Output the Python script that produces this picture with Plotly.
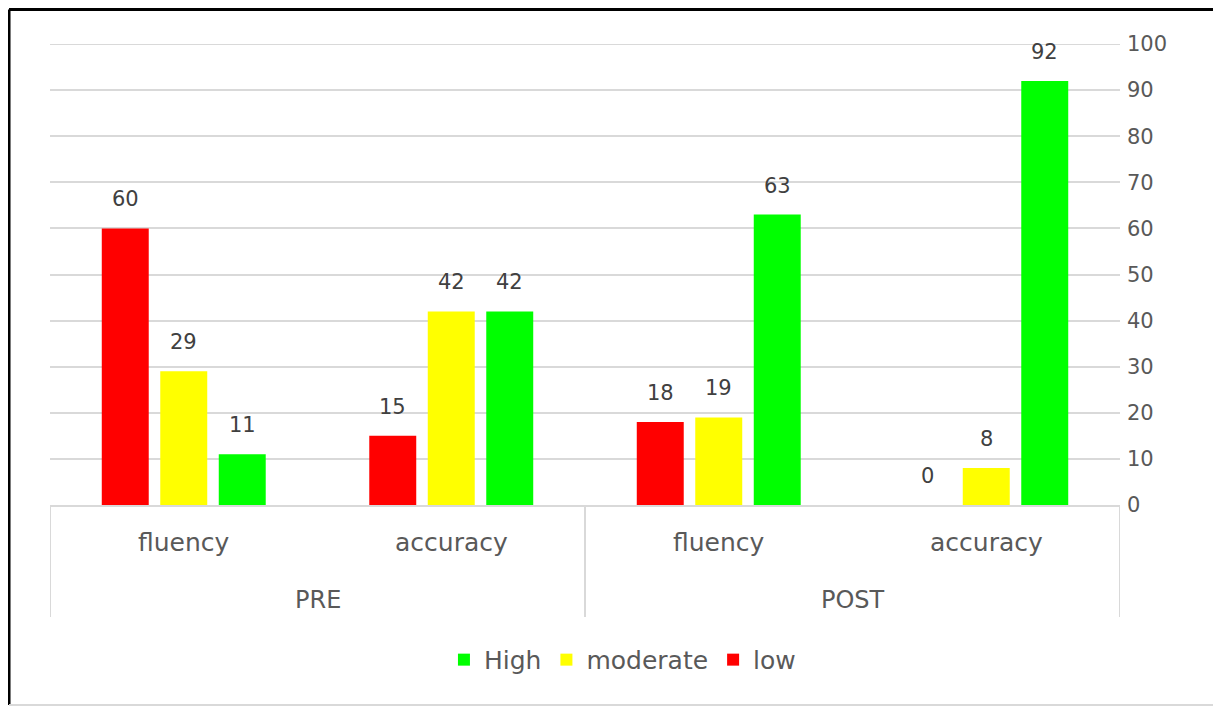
import plotly.graph_objects as go

phases = ["PRE", "PRE", "POST", "POST"]
skills = ["fluency", "accuracy", "fluency", "accuracy"]
low = [60, 15, 18, 0]
moderate = [29, 42, 19, 8]
high = [11, 42, 63, 92]

series = [("low", low, "#FF0000"), ("moderate", moderate, "#FFFF00"), ("High", high, "#00FF00")]

FONT = "DejaVu Sans"
TXT = "#595959"
GRID = "#d9d9d9"

fig = go.Figure()
for name, vals, col in series:
    fig.add_trace(go.Bar(
        x=[phases, skills], y=vals, name=name, marker_color=col,
        marker_line_width=0,
    ))

# data labels (offset per series within the group)
offsets = [-58.5, 0, 58.5]
for (name, vals, col), dx in zip(series, offsets):
    for i, v in enumerate(vals):
        fig.add_annotation(x=i, y=v, text=str(v), showarrow=False,
                           xshift=dx, yshift=15, yanchor="bottom",
                           font=dict(family=FONT, size=21, color="#404040"))

# category labels (inner and outer level)
for i, s in enumerate(skills):
    fig.add_annotation(x=i, y=-0.0803, xref="x", yref="paper", text=s, showarrow=False,
                       yanchor="middle", font=dict(family=FONT, size=25, color=TXT))
outer = []
for i, p in enumerate(phases):
    if not outer or outer[-1][0] != p:
        outer.append([p, i, i])
    else:
        outer[-1][2] = i
for p, a, b in outer:
    fig.add_annotation(x=(a + b) / 2, y=-0.206, xref="x", yref="paper", text=p, showarrow=False,
                       yanchor="middle", font=dict(family=FONT, size=24, color=TXT))
    fig.add_shape(type="line", xref="x", yref="paper", x0=a - 0.5, x1=a - 0.5, y0=0, y1=-0.243,
                  line=dict(color=GRID, width=2))
fig.add_shape(type="line", xref="x", yref="paper", x0=len(phases) - 0.5, x1=len(phases) - 0.5,
              y0=0, y1=-0.243, line=dict(color=GRID, width=2))

fig.update_layout(
    width=1221, height=708,
    margin=dict(l=42, r=109, t=36, b=211),
    paper_bgcolor="white", plot_bgcolor="white",
    barmode="group", bargap=0.344, bargroupgap=0.197,
    font=dict(family=FONT, size=20, color=TXT),
    showlegend=True,
    legend=dict(orientation="h", x=0.535, xanchor="center", y=-0.336, yanchor="middle",
                traceorder="reversed", font=dict(size=25, color=TXT),
                itemwidth=30),
    xaxis=dict(type="multicategory", showgrid=False, showticklabels=False,
               showdividers=False, range=[-0.5, 3.5],
               showline=True, linecolor=GRID, linewidth=2, ticks=""),
    yaxis=dict(side="right", range=[0, 100], dtick=10, showgrid=True,
               gridcolor=GRID, gridwidth=2, zeroline=False,
               tickfont=dict(size=21, color=TXT), ticklabelstandoff=6),
)

# top gridline at 100
fig.add_shape(type="line", xref="paper", yref="y", x0=0, x1=1, y0=100, y1=100,
              line=dict(color=GRID, width=2), layer="below")

# frame around the chart
fig.add_shape(type="line", xref="paper", yref="paper", x0=-0.0383, x1=1.0935, y0=1.0748, y1=1.0748,
              line=dict(color="black", width=3))
fig.add_shape(type="line", xref="paper", yref="paper", x0=-0.0383, x1=-0.0383, y0=1.0748, y1=-0.4338,
              line=dict(color="black", width=3))
fig.add_shape(type="line", xref="paper", yref="paper", x0=-0.0383, x1=1.0935, y0=-0.4338, y1=-0.4338,
              line=dict(color=GRID, width=2))
fig.add_shape(type="line", xref="paper", yref="paper", x0=1.0935, x1=1.0935, y0=1.0748, y1=-0.4338,
              line=dict(color=GRID, width=2))

fig.write_html("out.html")
